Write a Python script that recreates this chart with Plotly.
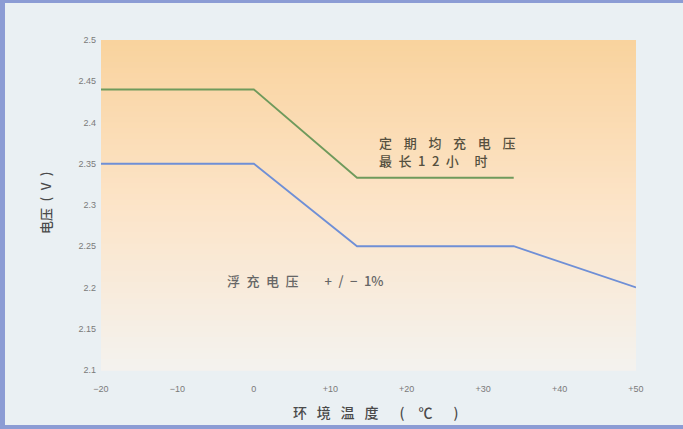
import plotly.graph_objects as go

# Data
temps_float = [-20, 0, 13.5, 34, 50]
volt_float = [2.35, 2.35, 2.25, 2.25, 2.20]
temps_eq = [-20, 0, 13.5, 34]
volt_eq = [2.44, 2.44, 2.333, 2.333]

x_tickvals = [-20, -10, 0, 10, 20, 30, 40, 50]
x_ticktext = ["−20", "−10", "0", "+10", "+20", "+30", "+40", "+50"]
y_tickvals = [2.1, 2.15, 2.2, 2.25, 2.3, 2.35, 2.4, 2.45, 2.5]
y_ticktext = ["2.1", "2.15", "2.2", "2.25", "2.3", "2.35", "2.4", "2.45", "2.5"]

W, H = 683, 429
ML, MR, MT, MB = 101, 47, 40, 59
PW, PH = W - ML - MR, H - MT - MB

fig = go.Figure()
fig.add_trace(go.Scatter(x=temps_eq, y=volt_eq, mode="lines",
                         line=dict(color="#6f9a5c", width=1.8), hoverinfo="skip"))
fig.add_trace(go.Scatter(x=temps_float, y=volt_float, mode="lines",
                         line=dict(color="#6f8fd6", width=1.8), hoverinfo="skip"))

# gradient background for plot area
top = (249, 211, 158)
mid = (252, 228, 200)
bot = (244, 242, 238)
N = 60
shapes = []
for i in range(N):
    t = i / (N - 1)
    if t < 0.5:
        u = t / 0.5
        c = [round(top[k] + (mid[k] - top[k]) * u) for k in range(3)]
    else:
        u = (t - 0.5) / 0.5
        c = [round(mid[k] + (bot[k] - mid[k]) * u) for k in range(3)]
    y1 = 1 - i / N
    y0 = 1 - (i + 1) / N
    shapes.append(dict(type="rect", xref="x domain", yref="y domain",
                       x0=0, x1=1, y0=y0 - 0.002, y1=y1,
                       fillcolor=f"rgb({c[0]},{c[1]},{c[2]})",
                       line=dict(width=0), layer="below"))

def px_x(p):
    return (p - ML) / PW

def px_y(p):
    return 1 - (p - MT) / PH

border = "rgb(140,156,212)"
shapes.append(dict(type="rect", xref="paper", yref="paper",
                   x0=px_x(0), x1=px_x(5), y0=px_y(H), y1=px_y(0),
                   fillcolor=border, line=dict(width=0), layer="above"))
shapes.append(dict(type="rect", xref="paper", yref="paper",
                   x0=px_x(0), x1=px_x(W), y0=px_y(3), y1=px_y(0),
                   fillcolor=border, line=dict(width=0), layer="above"))
shapes.append(dict(type="rect", xref="paper", yref="paper",
                   x0=px_x(0), x1=px_x(W), y0=px_y(H), y1=px_y(H - 4),
                   fillcolor=border, line=dict(width=0), layer="above"))

cjk = "Noto Sans CJK SC, Liberation Sans, sans-serif"
EN, EM, TH = "\u2002", "\u2003", "\u2009"
gap = EN + TH

x_title = gap.join(["环", "境", "温", "度"]) + EM + EN + "(" + EM + "℃" + EM + EN + ")"
y_title = "电压" + EN + "(" + EN + "V" + EN + ")"
eq_line1 = (EN + TH + TH).join(["定", "期", "均", "充", "电", "压"])
eq_line2 = "最" + EN + "长" + EN + "1" + EN + "2" + EN + "小" + EM + TH + "时"
fl_text = EN.join(["浮", "充", "电", "压"]) + EM + EM + "+" + EN + "/" + EN + "−" + EN + "1%"

fig.update_layout(
    width=W, height=H,
    margin=dict(l=ML, r=MR, t=MT, b=MB),
    paper_bgcolor="#eaf0f3",
    plot_bgcolor="rgba(0,0,0,0)",
    showlegend=False,
    shapes=shapes,
    xaxis=dict(range=[-20, 50], tickvals=x_tickvals, ticktext=x_ticktext,
               showgrid=False, zeroline=False, showline=False, ticks="",
               ticklabelstandoff=12,
               tickfont=dict(family="Liberation Sans, sans-serif", size=9, color="#7a7a7a")),
    yaxis=dict(range=[2.1, 2.5], tickvals=y_tickvals, ticktext=y_ticktext,
               showgrid=False, zeroline=False, showline=False, ticks="",
               ticklabelstandoff=4,
               tickfont=dict(family="Liberation Sans, sans-serif", size=9, color="#7a7a7a")),
    annotations=[
        dict(x=px_x(292), y=px_y(412), xref="paper", yref="paper",
             xanchor="left", yanchor="middle", text=x_title, showarrow=False,
             borderpad=0,
             font=dict(family=cjk, size=14, color="#4a4a4a", weight=500)),
        dict(x=px_x(45), y=px_y(203), xref="paper", yref="paper",
             xanchor="center", yanchor="middle", text=y_title, showarrow=False,
             textangle=-90, borderpad=0,
             font=dict(family=cjk, size=13, color="#4a4a4a", weight=500)),
        dict(x=px_x(378), y=px_y(142), xref="paper", yref="paper",
             xanchor="left", yanchor="middle", text=eq_line1, showarrow=False,
             borderpad=0,
             font=dict(family=cjk, size=13, color="#55503f", weight=500)),
        dict(x=px_x(378), y=px_y(160), xref="paper", yref="paper",
             xanchor="left", yanchor="middle", text=eq_line2, showarrow=False,
             borderpad=0,
             font=dict(family=cjk, size=13, color="#55503f", weight=500)),
        dict(x=px_x(226), y=px_y(280), xref="paper", yref="paper",
             xanchor="left", yanchor="middle", text=fl_text, showarrow=False,
             borderpad=0,
             font=dict(family=cjk, size=13, color="#666666", weight=500)),
    ],
)

fig.write_html("out.html", config={"displayModeBar": False},
               post_script="document.body.style.margin='0';document.body.style.overflow='hidden';")
